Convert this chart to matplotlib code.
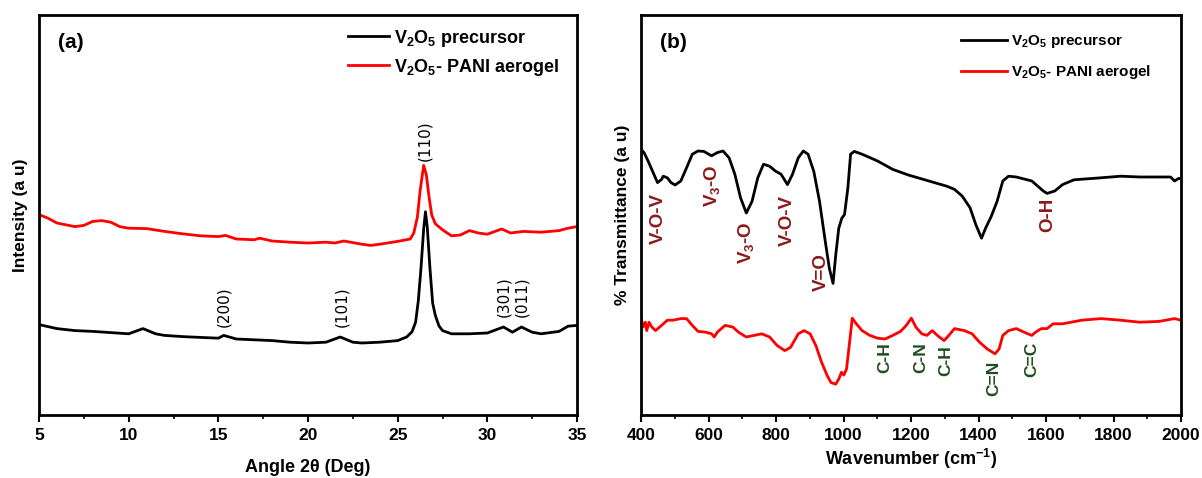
import numpy as np
import matplotlib
matplotlib.use("Agg")
import matplotlib.pyplot as plt

plt.rcParams['font.family'] = ['Liberation Sans', 'DejaVu Sans']
plt.rcParams['font.weight'] = 'bold'
plt.rcParams['mathtext.fontset'] = 'custom'
plt.rcParams['mathtext.rm'] = 'Liberation Sans:bold'
plt.rcParams['mathtext.bf'] = 'Liberation Sans:bold'
plt.rcParams['mathtext.default'] = 'bf'

# XRD patterns (a)
xrd_angle_precursor = [5, 6, 7, 8, 9, 10, 10.8, 11.5, 12, 13, 14, 15, 15.3, 16, 17, 18, 19, 20, 21,
                       21.8, 22.5, 23, 24, 25, 25.5, 25.8, 26.0, 26.15, 26.3, 26.45, 26.55, 26.65,
                       26.8, 26.95, 27.1, 27.3, 27.5, 28, 29, 30, 30.9, 31.4, 31.9, 32.5, 33, 34,
                       34.5, 35]
xrd_int_precursor = [22.6, 21.6, 21.1, 20.9, 20.6, 20.3, 21.6, 20.3, 19.9, 19.6, 19.4, 19.2, 19.9, 19.0,
                     18.8, 18.6, 18.2, 18.0, 18.2, 19.5, 18.2, 18.0, 18.2, 18.6, 19.5, 20.8, 23.2,
                     28.5, 36.7, 46.5, 50.8, 47.0, 36.7, 28.0, 24.9, 22.3, 21.1, 20.3, 20.3, 20.5,
                     22.0, 20.7, 22.0, 20.7, 20.3, 20.9, 22.2, 22.4]

xrd_angle_aerogel = [5, 5.5, 6, 7, 7.5, 8, 8.5, 9, 9.5, 10, 11, 12, 13, 14, 15, 15.4, 16, 17, 17.3, 18,
                     19, 20, 21, 21.5, 22, 23, 23.5, 24, 25, 25.7, 25.9, 26.1, 26.25, 26.45, 26.6,
                     26.75, 26.9, 27.1, 27.5, 28, 28.5, 29, 29.5, 30, 30.8, 31.3, 32, 33, 34, 34.5, 35]
xrd_int_aerogel = [50.1, 49.2, 48.0, 47.1, 47.4, 48.4, 48.6, 48.2, 47.1, 46.7, 46.6, 45.9, 45.3, 44.8,
                   44.6, 44.9, 44.0, 43.8, 44.2, 43.5, 43.2, 43.0, 43.2, 43.0, 43.5, 42.7, 42.4, 42.7,
                   43.4, 44.0, 45.5, 49.5, 56.0, 62.4, 60.0, 54.5, 50.0, 47.8, 46.3, 44.8, 45.0, 46.1,
                   45.5, 45.2, 46.5, 45.5, 45.9, 45.7, 46.1, 46.7, 47.1]

xrd_peaks = ["(200)", "(101)", "(110)", "(301)", "(011)"]
xrd_peak_pos = [15.3, 21.9, 26.5, 30.9, 31.9]
xrd_peak_label_y = [22.0, 22.0, 63.5, 24.5, 24.5]

# FTIR spectra (b)
ir_wn_precursor = [400, 409, 421, 438, 449, 461, 466, 478, 489, 501, 518, 535, 552, 569, 586, 609, 626,
                   643, 661, 678, 695, 712, 729, 746, 763, 781, 798, 815, 834, 849, 866, 881, 895, 912,
                   929, 946, 958, 969, 977, 986, 995, 1003, 1013, 1021, 1032, 1055, 1101, 1146, 1192,
                   1249, 1306, 1329, 1352, 1375, 1392, 1409, 1421, 1438, 1455, 1472, 1489, 1512, 1558,
                   1592, 1603, 1626, 1649, 1683, 1763, 1821, 1878, 1969, 1981, 1992, 2000]
ir_t_precursor = [66.4, 65.6, 63.5, 60.2, 58.1, 58.9, 59.7, 59.3, 58.1, 57.5, 58.5, 61.8, 65.2, 66.0,
                  65.9, 64.8, 65.6, 66.0, 64.3, 60.2, 54.3, 50.5, 53.4, 59.3, 62.7, 62.2, 61.0, 60.2,
                  57.6, 60.2, 64.3, 66.0, 65.2, 60.9, 53.4, 43.4, 36.7, 32.9, 40.0, 46.7, 49.2, 50.1,
                  56.8, 65.2, 65.9, 65.2, 63.5, 61.4, 60.0, 58.6, 57.2, 56.4, 54.7, 51.8, 47.6, 44.2,
                  46.7, 49.7, 53.4, 58.5, 59.7, 59.5, 58.5, 56.0, 55.4, 56.0, 57.6, 58.8, 59.3, 59.7,
                  59.5, 59.5, 58.5, 59.1, 59.1]

ir_wn_aerogel = [400, 406, 413, 417, 424, 432, 443, 461, 478, 495, 518, 535, 552, 569, 592, 609, 617,
                 626, 649, 672, 689, 712, 735, 758, 781, 803, 826, 843, 866, 883, 901, 918, 935, 952,
                 963, 977, 986, 994, 1001, 1009, 1017, 1026, 1038, 1055, 1078, 1101, 1123, 1146, 1169,
                 1186, 1201, 1215, 1232, 1247, 1263, 1278, 1298, 1312, 1329, 1358, 1381, 1403, 1426,
                 1449, 1461, 1472, 1489, 1512, 1535, 1558, 1569, 1586, 1603, 1621, 1649, 1706, 1763,
                 1821, 1878, 1935, 1981, 2000]
ir_t_aerogel = [24.5, 22.0, 23.2, 21.1, 23.2, 22.0, 21.1, 22.4, 23.7, 23.7, 24.1, 24.1, 22.4, 20.9,
                20.7, 20.3, 19.5, 20.7, 22.4, 22.0, 20.7, 19.5, 19.9, 20.3, 19.5, 17.4, 16.1, 16.9,
                20.3, 21.1, 20.3, 17.4, 13.2, 9.8, 8.1, 7.7, 9.0, 10.7, 10.0, 11.5, 17.4, 24.2, 22.8,
                21.1, 19.9, 19.2, 19.0, 19.9, 20.9, 22.4, 24.2, 21.9, 20.3, 19.9, 21.1, 19.9, 18.6,
                19.9, 21.6, 21.1, 20.3, 18.2, 16.5, 15.3, 16.5, 19.9, 21.1, 21.6, 20.7, 19.9, 20.7,
                21.6, 21.6, 22.8, 22.8, 23.7, 24.1, 23.7, 23.2, 23.4, 24.1, 23.7]

vo_bands = ["V-O-V", "V$_3$-O", "V$_3$-O", "V-O-V", "V=O", "O-H"]
vo_band_pos = [452, 609, 710, 834, 933, 1606]
vo_band_top = [55.5, 62.7, 48.4, 55.1, 40.4, 54.3]

pani_bands = ["C-H", "C-N", "C-H", "C=N", "C=C"]
pani_band_pos = [1123, 1230, 1304, 1446, 1558]
pani_band_top = [18.2, 18.2, 17.4, 13.6, 18.2]

fig = plt.figure(figsize=(12.02, 4.78), dpi=100)
ax1 = fig.add_axes([39 / 1202, 63 / 478, 538 / 1202, 400 / 478])
ax2 = fig.add_axes([641 / 1202, 63 / 478, 540 / 1202, 400 / 478])


def style_axes(ax):
    for sp in ax.spines.values():
        sp.set_linewidth(2)
    ax.set_yticks([])
    ax.tick_params(axis='x', which='major', direction='out', length=5, width=1.5,
                   labelsize=12.5, pad=4)
    ax.tick_params(axis='x', which='minor', direction='out', length=3, width=1.2)
    ax.set_ylim(0, 100)
    for lab in ax.get_xticklabels():
        lab.set_fontweight('bold')


# (a) XRD
ax1.plot(xrd_angle_precursor, xrd_int_precursor, color='black', lw=2, label='V$_2$O$_5$ precursor')
ax1.plot(xrd_angle_aerogel, xrd_int_aerogel, color='red', lw=2, label='V$_2$O$_5$- PANI aerogel')
ax1.set_xlim(5, 35)
ax1.set_xticks(np.arange(5, 36, 5))
ax1.set_xticks(np.arange(7.5, 35, 5), minor=True)
style_axes(ax1)
for lab, x, y in zip(xrd_peaks, xrd_peak_pos, xrd_peak_label_y):
    ax1.text(x, y, lab, rotation=90, ha='center', va='bottom', fontsize=11,
             fontweight='normal', family='DejaVu Sans')
ax1.text(0.035, 0.93, '(a)', transform=ax1.transAxes, fontsize=15, fontweight='bold',
         ha='left', va='center')
ax1.set_xlabel('Angle 2θ (Deg)', fontsize=13, fontweight='bold', labelpad=12)
ax1.set_ylabel('Intensity (a u)', fontsize=12.5, fontweight='bold', labelpad=8)
ax1.legend(loc='upper left', bbox_to_anchor=(0.55, 1.0), frameon=False, fontsize=13,
           handlelength=2.3, handletextpad=0.3, labelspacing=0.45, borderaxespad=0.3)

# (b) FTIR
ax2.plot(ir_wn_precursor, ir_t_precursor, color='black', lw=2, label='V$_2$O$_5$ precursor')
ax2.plot(ir_wn_aerogel, ir_t_aerogel, color='red', lw=2, label='V$_2$O$_5$- PANI aerogel')
ax2.set_xlim(400, 2000)
ax2.set_xticks(np.arange(400, 2001, 200))
ax2.set_xticks(np.arange(500, 2000, 200), minor=True)
style_axes(ax2)
for lab, x, y in zip(vo_bands, vo_band_pos, vo_band_top):
    ax2.text(x, y, lab, rotation=90, ha='center', va='top', fontsize=13.5,
             fontweight='bold', color='#8b1a1a')
for lab, x, y in zip(pani_bands, pani_band_pos, pani_band_top):
    ax2.text(x, y, lab, rotation=90, ha='center', va='top', fontsize=12.5,
             fontweight='bold', color='#1e4d1e')
ax2.text(0.035, 0.93, '(b)', transform=ax2.transAxes, fontsize=15, fontweight='bold',
         ha='left', va='center')
ax2.set_xlabel('Wavenumber (cm$^{-1}$)', fontsize=13, fontweight='bold', labelpad=3)
ax2.set_ylabel('% Transmittance (a u)', fontsize=12.5, fontweight='bold', labelpad=8)
ax2.legend(loc='upper left', bbox_to_anchor=(0.57, 0.985), frameon=False, fontsize=11,
           handlelength=3.0, handletextpad=0.3, labelspacing=0.85, borderaxespad=0.4)

fig.savefig('out.png', dpi=100)
